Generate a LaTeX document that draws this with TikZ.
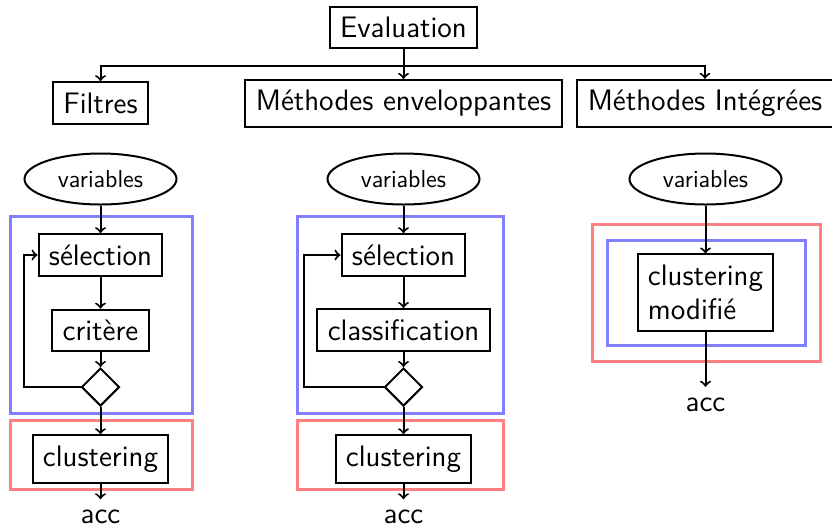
\documentclass[tikz,border=0pt]{standalone}
\usepackage{fontspec}
\usetikzlibrary{shapes.geometric}
\newcommand\mainsz{\fontsize{14.8}{17.2}\selectfont\sffamily}
\newcommand\varsz{\fontsize{12.3}{14}\selectfont\sffamily}
\definecolor{frameblue}{RGB}{128,128,255}
\definecolor{framered}{RGB}{255,128,128}
\tikzset{
  box/.style={draw, line width=1pt, inner sep=5.2pt, font=\mainsz},
  txt/.style={inner sep=5.2pt, font=\mainsz},
  var/.style={draw, ellipse, line width=1pt, inner sep=0pt, minimum width=76pt, minimum height=25.5pt, font=\varsz},
  test/.style={draw, diamond, line width=1pt, inner sep=0pt, minimum width=19pt, minimum height=19pt},
  conn/.style={->, line width=1pt},
  bframe/.style={draw=frameblue, line width=1.5pt},
  rframe/.style={draw=framered, line width=1.5pt}
}
\begin{document}
\begin{tikzpicture}[x=0.5pt, y=-0.5pt]
\useasboundingbox (0,0) rectangle (832,527);

% top of the hierarchy
\node[box] (eval) at (403.5,27.5) {Evaluation};
\node[box] (filtres) at (100.5,103) {Filtres};
\node[box] (env) at (403.5,103.5) {Méthodes enveloppantes};
\node[box] (integ) at (705,103.5) {Méthodes Intégrées};
\coordinate (junc) at (403.5,66);

% filter approach
\node[var] (var1) at (100.5,179) {variables};
\node[box] (sel1) at (100.5,255) {sélection};
\node[box] (crit) at (100.5,330.5) {critère};
\node[test] (dia1) at (100.5,387) {};
\node[box] (clu1) at (100.5,459) {clustering};
\node[txt] (acc1) at (100.5,517) {acc};

% wrapper approach
\node[var] (var2) at (403.5,179) {variables};
\node[box] (sel2) at (403.5,255) {sélection};
\node[box] (class) at (403.5,330) {classification};
\node[test] (dia2) at (403.5,387) {};
\node[box] (clu2) at (403.5,459) {clustering};
\node[txt] (acc2) at (403.5,517) {acc};

% embedded approach
\node[var] (var3) at (705.5,179) {variables};
\node[box, align=left] (cm) at (705.5,292.5) {clustering\\modifié};
\node[txt] (acc3) at (705.5,404.5) {acc};

% frames
\path[bframe] (10,216) rectangle (192,413);
\path[rframe] (10,420) rectangle (192,489);
\path[bframe] (297,216) rectangle (503,413);
\path[rframe] (297,420) rectangle (503,489);
\path[rframe] (592,224) rectangle (820,361);
\path[bframe] (607,240) rectangle (805,345);

% connectors
\draw[conn] (eval) -- (env);
\draw[conn] (junc) -| (filtres);
\draw[conn] (junc) -| (integ);

\draw[conn] (var1) -- (sel1);
\draw[conn] (sel1) -- (crit);
\draw[conn] (crit) -- (dia1);
\draw[conn] (dia1.west) -- ++(-57,0) |- (sel1.west);
\draw[conn] (dia1) -- (clu1);
\draw[conn] (clu1) -- (acc1);

\draw[conn] (var2) -- (sel2);
\draw[conn] (sel2) -- (class);
\draw[conn] (class) -- (dia2);
\draw[conn] (dia2.west) -- ++(-79.5,0) |- (sel2.west);
\draw[conn] (dia2) -- (clu2);
\draw[conn] (clu2) -- (acc2);

\draw[conn] (var3) -- (cm);
\draw[conn] (cm) -- (acc3);
\end{tikzpicture}
\end{document}
